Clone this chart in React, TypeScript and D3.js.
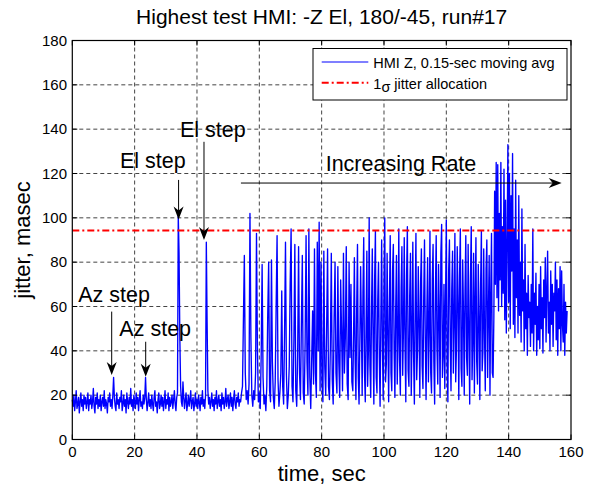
import React from "react";
import * as d3 from "d3";

// ---- data ----
const xTicks = [0, 20, 40, 60, 80, 100, 120, 140, 160];
const yTicks = [0, 20, 40, 60, 80, 100, 120, 140, 160, 180];
const jitterAllocation = 94.3;

// quiet part with the Az / El steps: start 0 s, step 0.25 s
const segAStart = 0;
const segAStep = 0.25;
const segA = [
  18, 15, 20, 13, 17, 22, 14, 16, 19, 12, 17, 21, 15, 18, 13, 20, 16, 19, 14, 17,
  21, 13, 18, 16, 20, 14, 17, 23, 15, 12, 19, 16, 21, 14, 18, 15, 20, 13, 17, 19,
  15, 22, 14, 18, 16, 12, 19, 17, 21, 15, 18, 14, 20, 28, 19, 15, 13, 21, 16, 18,
  14, 19, 17, 22, 13, 16, 20, 15, 18, 12, 21, 17, 14, 19, 16, 23, 15, 18, 13, 20,
  17, 14, 21, 16, 19, 13, 18, 22, 15, 17, 14, 20, 16, 19, 28, 18, 13, 17, 21, 15,
  18, 14, 20, 16, 13, 19, 22, 15, 17, 12, 18, 21, 14, 16, 20, 15, 19, 13, 17, 22,
  14, 18, 16, 21, 13, 19, 15, 17, 20, 14, 18, 22, 16, 13, 19, 21, 101, 84, 46, 24,
  17, 15, 26, 19, 14, 18, 21, 13, 16, 20, 15, 18, 22, 14, 17, 19, 13, 16, 21, 15,
  18, 14, 20, 17, 13, 19, 16, 22, 15, 18, 14, 20, 89, 53, 22, 16, 19, 14, 17, 21,
  15, 18, 13, 19, 16, 22, 14, 17, 20, 15, 18, 13, 21, 16, 19, 14, 17, 23, 15, 18,
  20, 14, 17, 21, 15, 19, 13, 18, 22, 16, 14, 19, 17, 21, 15, 18,
];

// start of the rate ramp: start 54 s, step 0.3 s
const segBStart = 54;
const segBStep = 0.3;
const segB = [
  17, 21, 24, 54, 83, 30, 18, 22, 16, 25,
  102, 46, 20, 15, 22, 18, 30, 93, 40, 17,
  21, 14, 38, 79, 28, 16, 20, 13, 24, 56,
  80, 22, 17, 81, 35, 19, 14, 26, 60, 92,
  27, 15, 21, 30, 67, 24, 16, 48, 89, 29,
  14, 20, 33, 70, 95, 24, 17, 45, 88, 22,
  15, 38, 87, 30, 18, 52, 83, 21, 16, 44,
  92, 35, 20, 95, 28, 14, 36, 58, 25, 86,
  30, 19, 89, 40, 98, 22, 80, 26, 17, 85,
  33, 20, 50, 86, 24, 18, 42, 84, 27, 16,
  55, 80, 30, 21, 78, 35, 19, 72, 48, 22,
  84, 30, 46, 87, 25, 18, 80, 37, 70, 26,
];

// dense oscillation: start 90 s, step 0.25 s
const segCStart = 90;
const segCStep = 0.25;
const segC = [
  22, 48, 82, 35, 18, 60, 88, 28, 16, 44, 78, 52, 20, 66, 91, 30, 17, 50, 85, 24,
  40, 100, 33, 19, 58, 86, 45, 16, 72, 94, 28, 21, 63, 80, 37, 15, 55, 90, 42, 18,
  70, 100, 26, 34, 84, 48, 17, 62, 92, 30, 22, 76, 88, 40, 19, 58, 83, 25, 44, 95,
  36, 20, 68, 87, 29, 50, 91, 42, 17, 74, 96, 31, 24, 65, 84, 20, 47, 89, 38, 16,
  60, 93, 27, 40, 78, 52, 19, 71, 86, 33, 23, 64, 90, 45, 18, 57, 82, 26, 49, 94,
  30, 21, 72, 88, 35, 16, 66, 92, 41, 25, 79, 57, 19, 84, 97, 28, 38, 70, 23, 62,
  99, 34, 17, 76, 90, 44, 22, 68, 85, 30, 53, 93, 26, 41, 87, 62, 18, 74, 95, 32,
  24, 81, 58, 20, 67, 92, 37, 29, 88, 50, 16, 73, 96, 27, 45, 84, 21, 63, 91, 35,
  25, 79, 55, 18, 70, 94, 31, 40, 86, 48, 22, 77, 90, 28, 57, 83, 20, 66, 93, 30,
];

// highest rate: start 135 s, step 0.25 s
const segDStart = 135;
const segDStep = 0.25;
const segD = [
  28, 55, 112, 70, 125, 64, 124, 58, 102, 72, 125, 60,
  96, 66, 122, 54, 108, 48, 88, 133, 62, 120, 50, 110,
  76, 129, 52, 95, 46, 117, 64, 90, 48, 110, 56, 80,
  44, 104, 58, 72, 40, 88, 50, 66, 38, 74, 55, 62,
  42, 70, 48, 95, 40, 66, 52, 75, 38, 60, 45, 70,
  41, 78, 50, 64, 39, 72, 55, 82, 44, 68, 85, 48,
  62, 40, 76, 52, 70, 42, 66, 58, 80, 45, 72, 38,
  68, 50, 78, 40, 76, 52, 44, 70, 38, 62, 48, 58,
];

const annotations = [
  { label: "Az step", tx: 1.9, ty: 62.2, ax: 12.64, from: 57.7, to: 29.1 },
  { label: "Az step", tx: 15.1, ty: 46.7, ax: 23.55, from: 44.1, to: 28.3 },
  { label: "El step", tx: 15.3, ty: 122.3, ax: 34.1, from: 117.1, to: 99.3 },
  { label: "El step", tx: 34.55, ty: 136.6, ax: 42.25, from: 134.3, to: 90.0 },
];
const rateLabel = { label: "Increasing Rate", tx: 81.3, ty: 121.3, ay: 115.7, from: 54.1, to: 157.0 };

const W = 589;
const H = 486;
const left = 72.3;
const right = 571;
const top = 40.5;
const bottom = 439.5;
const FONT = "'Liberation Sans', Arial, Helvetica, sans-serif";

function toPoints(start: number, step: number, vals: number[]) {
  return vals.map((v, i) => [start + i * step, v] as [number, number]);
}

function arrowHead(x: number, y: number, dx: number, dy: number) {
  const L = 13, Wd = 10, notch = 4;
  const px = -dy, py = dx;
  const bx = x - dx * L, by = y - dy * L;
  const nx = x - dx * (L - notch), ny = y - dy * (L - notch);
  return `M${x},${y}L${bx + px * Wd / 2},${by + py * Wd / 2}L${nx},${ny}L${bx - px * Wd / 2},${by - py * Wd / 2}Z`;
}

export default function App() {
  const x = d3.scaleLinear().domain([0, 160]).range([left, right]);
  const y = d3.scaleLinear().domain([0, 180]).range([bottom, top]);

  const pts = [
    ...toPoints(segAStart, segAStep, segA),
    ...toPoints(segBStart, segBStep, segB),
    ...toPoints(segCStart, segCStep, segC),
    ...toPoints(segDStart, segDStep, segD),
  ];
  const line = d3.line<[number, number]>().x((d) => x(d[0])).y((d) => y(d[1]));

  const tickLen = 5;

  return (
    <svg width={W} height={H} style={{ position: "absolute", left: 0, top: 0, background: "#fff" }} fontFamily={FONT}>
      <rect x={0} y={0} width={W} height={H} fill="#fff" />
      {/* grid */}
      {xTicks.slice(1, -1).map((t) => (
        <line key={"gx" + t} x1={x(t)} x2={x(t)} y1={top} y2={bottom} stroke="#444" strokeWidth={1} strokeDasharray="4,3" />
      ))}
      {yTicks.slice(1, -1).map((t) => (
        <line key={"gy" + t} x1={left} x2={right} y1={y(t)} y2={y(t)} stroke="#444" strokeWidth={1} strokeDasharray="4,3" />
      ))}
      {/* data */}
      <path d={line(pts) || ""} fill="none" stroke="#0000ff" strokeWidth={1.35} strokeLinejoin="round" />
      <line x1={left} x2={right} y1={y(jitterAllocation)} y2={y(jitterAllocation)} stroke="#ff0000" strokeWidth={2} strokeDasharray="7,3,2,3" />
      {/* box */}
      <rect x={left} y={top} width={right - left} height={bottom - top} fill="none" stroke="#000" strokeWidth={1.2} />
      {xTicks.map((t) => (
        <g key={"tx" + t}>
          <line x1={x(t)} x2={x(t)} y1={bottom} y2={bottom - tickLen} stroke="#000" />
          <line x1={x(t)} x2={x(t)} y1={top} y2={top + tickLen} stroke="#000" />
          <text x={x(t)} y={457} fontSize={15} textAnchor="middle">{t}</text>
        </g>
      ))}
      {yTicks.map((t) => (
        <g key={"ty" + t}>
          <line x1={left} x2={left + tickLen} y1={y(t)} y2={y(t)} stroke="#000" />
          <line x1={right} x2={right - tickLen} y1={y(t)} y2={y(t)} stroke="#000" />
          <text x={67} y={y(t) + 5} fontSize={15} textAnchor="end">{t}</text>
        </g>
      ))}
      {/* labels */}
      <text x={(left + right) / 2} y={24} fontSize={21} textAnchor="middle">Highest test HMI: -Z El, 180/-45, run#17</text>
      <text x={(left + right) / 2} y={481} fontSize={22} textAnchor="middle">time, sec</text>
      <text transform={`translate(30,${(top + bottom) / 2}) rotate(-90)`} fontSize={22} textAnchor="middle">jitter, masec</text>
      {/* annotations */}
      {annotations.map((a, i) => (
        <g key={"an" + i}>
          <text x={x(a.tx)} y={y(a.ty)} fontSize={21.5}>{a.label}</text>
          <line x1={x(a.ax)} x2={x(a.ax)} y1={y(a.from)} y2={y(a.to) - 8} stroke="#000" strokeWidth={1} />
          <path d={arrowHead(x(a.ax), y(a.to), 0, 1)} fill="#000" />
        </g>
      ))}
      <text x={x(rateLabel.tx)} y={y(rateLabel.ty)} fontSize={21.5}>{rateLabel.label}</text>
      <line x1={x(rateLabel.from)} x2={x(rateLabel.to) - 8} y1={y(rateLabel.ay)} y2={y(rateLabel.ay)} stroke="#000" strokeWidth={1} />
      <path d={arrowHead(x(rateLabel.to), y(rateLabel.ay), 1, 0)} fill="#000" />
      {/* legend */}
      <rect x={313} y={48.5} width={254} height={51.5} fill="#fff" stroke="#000" strokeWidth={1} />
      <line x1={321.7} x2={368.3} y1={62} y2={62} stroke="#0000ff" strokeWidth={1.2} />
      <text x={373.3} y={67.5} fontSize={14.5}>HMI Z, 0.15-sec moving avg</text>
      <line x1={321.7} x2={368.3} y1={82.7} y2={82.7} stroke="#ff0000" strokeWidth={2} strokeDasharray="7,3,2,3" />
      <text x={373.3} y={88.5} fontSize={14.5}>1<tspan dy={3}>σ</tspan><tspan dy={-3}> jitter allocation</tspan></text>
    </svg>
  );
}
